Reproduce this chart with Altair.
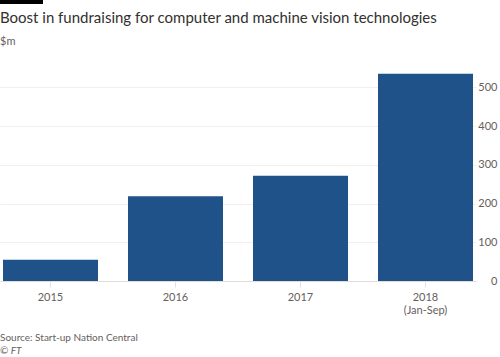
import altair as alt
import pandas as pd

years = ["2015", "2016", "2017", "2018 (Jan-Sep)"]
values = [55, 219, 272, 535]

title_lines = ["Boost in fundraising for computer and machine vision technologies"]
unit_lines = ["$m"]
source_lines = ["Source: Start-up Nation Central"]
copyright_lines = ["© FT"]

df = pd.DataFrame({"year": years, "value": values})

W, H = 476, 213
TOP = 68
FONT = "Lato"

bars = alt.Chart(df).mark_bar(color="#1f5288").encode(
    x=alt.X(
        "year:N",
        sort=years,
        scale=alt.Scale(paddingInner=0.24, paddingOuter=0.024),
        axis=alt.Axis(
            title=None,
            labelAngle=0,
            labelExpr="datum.label == '2018 (Jan-Sep)' ? ['2018', '(Jan-Sep)'] : datum.label",
            labelColor="#66605c",
            labelFontSize=11,
            labelFont=FONT,
            labelPadding=4,
            labelLineHeight=13,
            tickSize=6,
            tickColor="#e6e1dc",
            domainColor="#e0dbd6",
            grid=False,
        ),
    ),
    y=alt.Y(
        "value:Q",
        scale=alt.Scale(domain=[0, 550], nice=False),
        axis=alt.Axis(
            title=None,
            orient="right",
            values=[0, 100, 200, 300, 400, 500],
            labelAlign="right",
            labelBaseline="middle",
            labelPadding=21,
            labelColor="#66605c",
            labelFontSize=11,
            labelFont=FONT,
            tickSize=0,
            domain=False,
            gridColor="#f2eee9",
            gridWidth=1,
        ),
    ),
)


def text_layer(lines, y, size, color, style="normal"):
    d = pd.DataFrame({"t": lines})
    return alt.Chart(d).mark_text(
        align="left", baseline="alphabetic", font=FONT, fontSize=size,
        fontStyle=style, color=color,
    ).encode(text="t:N", x=alt.value(0), y=alt.value(y - TOP))


title = text_layer(title_lines, 23, 15, "#33302e")
unit = text_layer(unit_lines, 45, 11, "#66605c")
src = text_layer(source_lines, 341, 10, "#66605c")
ft = text_layer(copyright_lines, 354, 10, "#66605c", "italic")

topbar = alt.Chart(pd.DataFrame({"t": unit_lines})).mark_rect(color="#000000").encode(
    x=alt.value(0), x2=alt.value(43), y=alt.value(-TOP), y2=alt.value(-TOP + 4)
)

chart = alt.layer(bars, title, unit, src, ft, topbar).properties(
    width=W,
    height=H,
    padding={"left": 0, "top": TOP, "right": 24, "bottom": 76},
    autosize=alt.AutoSizeParams(type="none"),
).configure(background="#ffffff").configure_view(stroke=None)

chart.save("out.html", embed_options={"renderer": "svg", "actions": False})
